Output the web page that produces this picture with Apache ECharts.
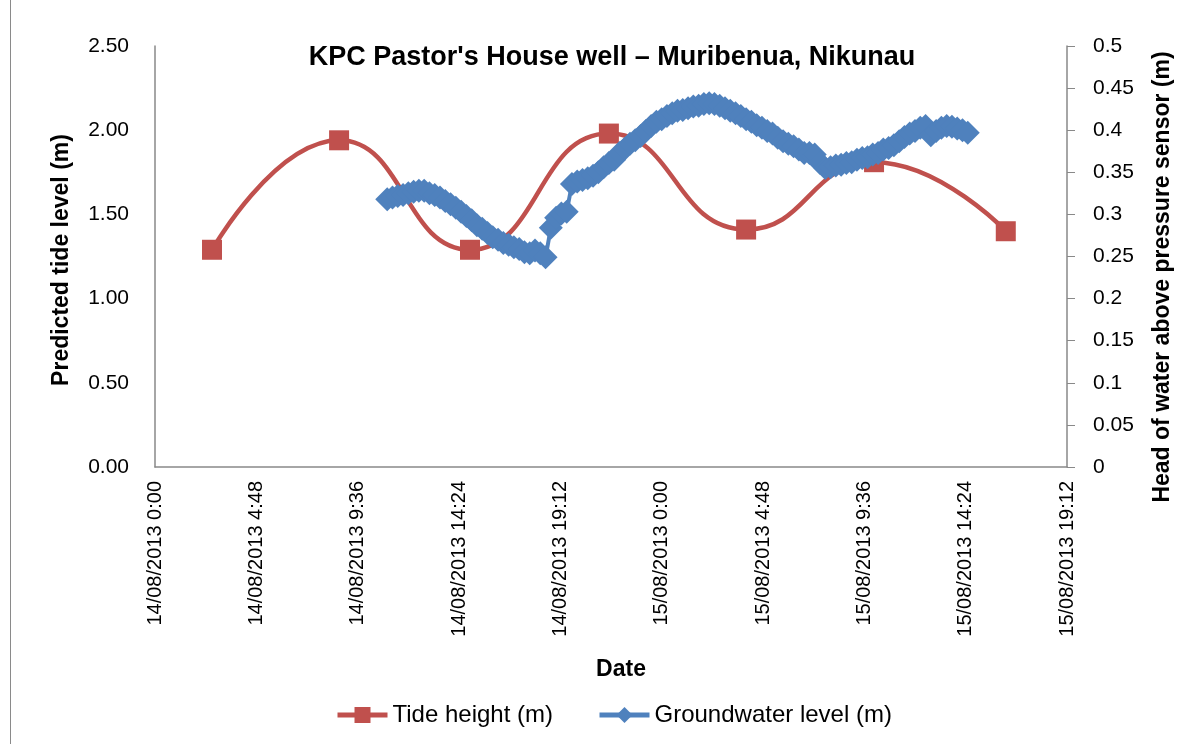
<!DOCTYPE html>
<html>
<head>
<meta charset="utf-8">
<script src="https://cdn.jsdelivr.net/npm/echarts@6/dist/echarts.min.js"></script>
<style>
  html, body { margin: 0; padding: 0; background: #fff; }
  #main { width: 1200px; height: 744px; }
</style>
</head>
<body>
<div id="main"></div>
<script>
// tide predictions: hours after 14/08/2013 0:00, level (m)
var tideHours = [2.70, 8.72, 14.92, 21.50, 28.00, 34.06, 40.30];
var tideLevel = [1.29, 1.94, 1.29, 1.98, 1.41, 1.81, 1.40];

// groundwater logger: first reading 14/08 11:00, every 15 minutes
var gwStartHour = 11.0;
var gwStepHour = 0.25;
var gwLevel = [
  0.318, 0.320, 0.322, 0.323, 0.325, 0.327, 0.328, 0.328, 0.325, 0.323,
  0.320, 0.316, 0.312, 0.308, 0.303, 0.298, 0.293, 0.287, 0.283, 0.278,
  0.273, 0.270, 0.266, 0.264, 0.261, 0.259, 0.255, 0.254, 0.257, 0.254,
  0.249, 0.284, 0.296, 0.301, 0.303, 0.336, 0.339, 0.341, 0.343, 0.346,
  0.350, 0.356, 0.361, 0.365, 0.373, 0.378, 0.384, 0.388, 0.393, 0.399,
  0.405, 0.410, 0.413, 0.417, 0.420, 0.423, 0.424, 0.426, 0.428, 0.429,
  0.431, 0.432, 0.431, 0.429, 0.426, 0.423, 0.420, 0.417, 0.413, 0.410,
  0.406, 0.403, 0.399, 0.396, 0.391, 0.387, 0.384, 0.381, 0.377, 0.373,
  0.373, 0.371, 0.361, 0.355, 0.356, 0.358, 0.359, 0.361, 0.362, 0.365,
  0.367, 0.368, 0.371, 0.373, 0.377, 0.379, 0.382, 0.387, 0.392, 0.396,
  0.399, 0.403, 0.405, 0.394, 0.399, 0.403, 0.405, 0.404, 0.402, 0.400,
  0.397
];

var xTicks = { min: 0, max: 43.2, step: 4.8 };
var leftTicks = { min: 0, max: 2.5, step: 0.5 };
var rightTicks = { min: 0, max: 0.5, step: 0.05 };

var tideData = tideHours.map(function (h, i) { return [h, tideLevel[i]]; });
var gwData = gwLevel.map(function (v, i) { return [gwStartHour + i * gwStepHour, v]; });

function dateLabel(h) {
  var day = 14 + Math.floor(h / 24 + 1e-9);
  var rem = h - (day - 14) * 24;
  var hh = Math.floor(rem + 1e-9);
  var mm = Math.round((rem - hh) * 60);
  if (mm === 60) { hh += 1; mm = 0; }
  return day + '/08/2013 ' + hh + ':' + (mm < 10 ? '0' + mm : mm);
}

var font = '"Liberation Sans", Arial, sans-serif';
var axisGrey = '#898989';

var chart = echarts.init(document.getElementById('main'));
chart.setOption({
  backgroundColor: '#fff',
  animation: false,
  textStyle: { fontFamily: font, color: '#000' },
  grid: { left: 155, right: 133, top: 46, bottom: 277 },
  legend: {
    left: 330,
    top: 698,
    itemWidth: 50,
    itemHeight: 20,
    itemGap: 44,
    lineStyle: { width: 5 },
    textStyle: { fontSize: 24, fontFamily: font, color: '#000' },
    data: ['Tide height (m)', 'Groundwater level (m)']
  },
  xAxis: {
    type: 'value',
    min: xTicks.min,
    max: xTicks.max,
    interval: xTicks.step,
    splitLine: { show: false },
    axisLine: { lineStyle: { color: axisGrey, width: 1.5 } },
    axisTick: { show: false },
    axisLabel: {
      rotate: 90,
      margin: 14,
      fontSize: 20,
      color: '#000',
      fontFamily: font,
      formatter: dateLabel
    }
  },
  yAxis: [
    {
      type: 'value',
      min: leftTicks.min,
      max: leftTicks.max,
      interval: leftTicks.step,
      splitLine: { show: false },
      axisLine: { show: true, lineStyle: { color: axisGrey, width: 1.5 } },
      axisTick: { show: false },
      axisLabel: {
        margin: 26,
        fontSize: 21,
        color: '#000',
        fontFamily: font,
        formatter: function (v) { return v.toFixed(2); }
      }
    },
    {
      type: 'value',
      position: 'right',
      min: rightTicks.min,
      max: rightTicks.max,
      interval: rightTicks.step,
      splitLine: { show: false },
      axisLine: { show: true, lineStyle: { color: axisGrey, width: 1.5 } },
      axisTick: { show: true, inside: false, length: 8, lineStyle: { color: axisGrey } },
      axisLabel: {
        margin: 26,
        fontSize: 21,
        color: '#000',
        fontFamily: font,
        formatter: function (v) { return String(Math.round(v * 100) / 100); }
      }
    }
  ],
  graphic: [
    {
      type: 'rect',
      shape: { x: 10.5, y: -5, width: 1200, height: 760 },
      style: { fill: 'none', stroke: '#8a8a8a', lineWidth: 1 },
      silent: true
    },
    {
      type: 'text',
      x: 612, y: 58,
      style: {
        text: "KPC Pastor's House well \u2013 Muribenua, Nikunau",
        font: 'bold 27px ' + font,
        fill: '#000',
        textAlign: 'center',
        textVerticalAlign: 'middle'
      }
    },
    {
      type: 'text',
      x: 621, y: 670,
      style: {
        text: 'Date',
        font: 'bold 23px ' + font,
        fill: '#000',
        textAlign: 'center',
        textVerticalAlign: 'middle'
      }
    },
    {
      type: 'text',
      x: 62, y: 260,
      rotation: Math.PI / 2,
      style: {
        text: 'Predicted tide level (m)',
        font: 'bold 23px ' + font,
        fill: '#000',
        textAlign: 'center',
        textVerticalAlign: 'middle'
      }
    },
    {
      type: 'text',
      x: 1163, y: 277,
      rotation: Math.PI / 2,
      style: {
        text: 'Head of water above pressure sensor (m)',
        font: 'bold 23px ' + font,
        fill: '#000',
        textAlign: 'center',
        textVerticalAlign: 'middle'
      }
    }
  ],
  series: [
    {
      name: 'Tide height (m)',
      type: 'line',
      yAxisIndex: 0,
      smooth: 0.5,
      symbol: 'rect',
      symbolSize: 20,
      lineStyle: { color: '#C0504D', width: 4.5 },
      itemStyle: { color: '#C0504D' },
      data: tideData
    },
    {
      name: 'Groundwater level (m)',
      type: 'line',
      yAxisIndex: 1,
      symbol: 'diamond',
      symbolSize: 24,
      lineStyle: { color: '#4F81BD', width: 4 },
      itemStyle: { color: '#4F81BD' },
      data: gwData
    }
  ]
});
</script>
</body>
</html>
